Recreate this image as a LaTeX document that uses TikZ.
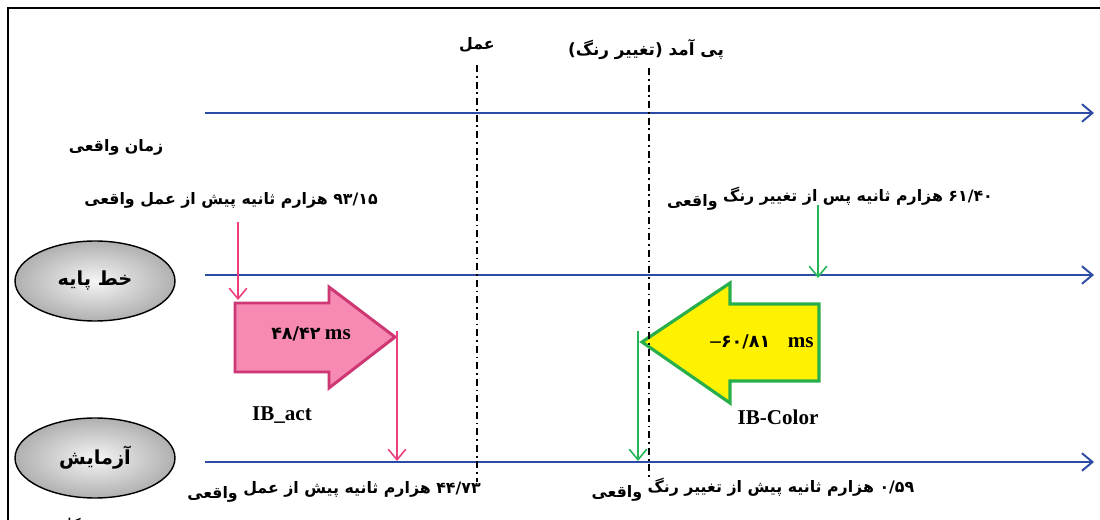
\documentclass[tikz,border=0pt]{standalone}
\usepackage{fontspec}
\setmainfont{Liberation Serif}
\newfontfamily\fa[Script=Arabic]{DejaVu Sans}
\TeXXeTstate=1
\usetikzlibrary{arrows.meta,shapes.geometric}
\definecolor{tlblue}{RGB}{45,75,165}
\definecolor{pinkfill}{RGB}{246,138,178}
\definecolor{pinkedge}{RGB}{205,55,115}
\definecolor{pinkline}{RGB}{238,62,125}
\definecolor{greenedge}{RGB}{40,175,75}
\definecolor{greenline}{RGB}{35,180,85}
\begin{document}
\begin{tikzpicture}[x=0.02cm,y=-0.02cm,
  timeline/.style={draw=tlblue,line width=1.1pt,-{Straight Barb[length=6pt,width=10pt]}},
  eventline/.style={draw=black,line width=0.8pt,dash pattern=on 4pt off 2.2pt on 1pt off 2.2pt},
  fatxt/.style={font=\fa\bfseries\fontsize{9}{11}\selectfont,inner sep=0pt},
  lattxt/.style={font=\bfseries\fontsize{12}{14}\selectfont,inner sep=0pt},
  stage/.style={ellipse,draw=black,line width=0.8pt,shading=radial,inner color=gray!8,outer color=gray!62,
     minimum width=3.2cm,minimum height=1.6cm,font=\fa\bfseries\fontsize{11}{13}\selectfont},
  pinkthin/.style={draw=pinkline,line width=0.9pt,-{Straight Barb[length=6pt,width=10pt]}},
  greenthin/.style={draw=greenline,line width=0.9pt,-{Straight Barb[length=6pt,width=10pt]}},
  pinkblock/.style={fill=pinkfill,draw=pinkedge,line width=1.7pt,line join=miter},
  yellowblock/.style={fill=yellow,draw=greenedge,line width=1.8pt,line join=miter}]
\useasboundingbox (0,0) rectangle (1100,520);
\clip (0,0) rectangle (1100,520);
% frame
\draw[line width=0.9pt] (8,530) -- (8,8) -- (1110,8);
% timelines
\coordinate (r0) at (205,113); \coordinate (r1) at (1094,113);
\coordinate (b0) at (205,275); \coordinate (b1) at (1094,275);
\coordinate (e0) at (205,462); \coordinate (e1) at (1094,462);
\draw[timeline] (r0) -- (r1);
\draw[timeline] (b0) -- (b1);
\draw[timeline] (e0) -- (e1);
% labels top
\node[fatxt] (act) at (477,45) {عمل};
\node[fatxt,font=\fa\bfseries\fontsize{9.6}{11}\selectfont] (cons) at (646,50) {\beginR پی آمد (تغییر رنگ)\endR};
\node[fatxt] (real) at (116,147) {\beginR زمان واقعی\endR};
\node[fatxt] (t93) at (231,200) {\beginR\beginL ۹۳/۱۵\endL{} هزارم ثانیه پیش از عمل واقعی\endR};
\node[fatxt] (t61) at (830,199) {\beginR\beginL ۶۱/۴۰\endL{} هزارم ثانیه پس از تغییر رنگ \raisebox{-3pt}{واقعی}\endR};
\node[fatxt] (t44) at (334,492) {\beginR\beginL ۴۴/۷۳\endL{} هزارم ثانیه پیش از عمل \raisebox{-2.5pt}{واقعی}\endR};
\node[fatxt] (t59) at (753,490) {\beginR\beginL ۰/۵۹\endL{} هزارم ثانیه پیش از تغییر رنگ \raisebox{-3pt}{واقعی}\endR};
% stages
\node[stage] (base) at (95,281) {\beginR خط پایه\endR};
\node[stage] (exp) at (95,458) {آزمایش};
% pink block arrow
\filldraw[pinkblock] (235,303) -- (329,303) -- (329,287) -- (395,337) -- (329,388) -- (329,372) -- (235,372) -- cycle;
\node[inner sep=0pt] (pinkval) at (311,334) {{\fa\bfseries\fontsize{10}{12}\selectfont ۴۸/۴۲}\ \textbf{\fontsize{12}{14}\selectfont ms}};
\node[lattxt] (ibact) at (282,415) {IB\_act};
% yellow block arrow
\filldraw[yellowblock] (642,342) -- (730,283) -- (730,304) -- (819,304) -- (819,381) -- (730,381) -- (730,403) -- cycle;
\node[inner sep=0pt] (yelval) at (762,342) {\textbf{\fontsize{12}{14}\selectfont –}{\fa\bfseries\fontsize{10}{12}\selectfont ۶۰/۸۱}\quad\textbf{\fontsize{12}{14}\selectfont ms}};
\node[lattxt] (ibcol) at (778,417) {IB-Color};
% event lines
\coordinate (a0) at (477,65); \coordinate (a1) at (477,482);
\coordinate (c0) at (649,68); \coordinate (c1) at (649,478);
\draw[eventline] (a0) -- (a1);
\draw[eventline] (c0) -- (c1);
% thin arrows
\coordinate (p0) at (238,222); \coordinate (p1) at (238,300);
\coordinate (p2) at (397,331); \coordinate (p3) at (397,461);
\coordinate (g0) at (818,205); \coordinate (g1) at (818,278);
\coordinate (g2) at (638,331); \coordinate (g3) at (638,461);
\draw[pinkthin] (p0) -- (p1);
\draw[pinkthin] (p2) -- (p3);
\draw[greenthin] (g0) -- (g1);
\draw[greenthin] (g2) -- (g3);
% caption fragment
\node[font=\fa\fontsize{10}{12}\selectfont,inner sep=0pt] (cap) at (78,526) {شکل};
\end{tikzpicture}
\end{document}
